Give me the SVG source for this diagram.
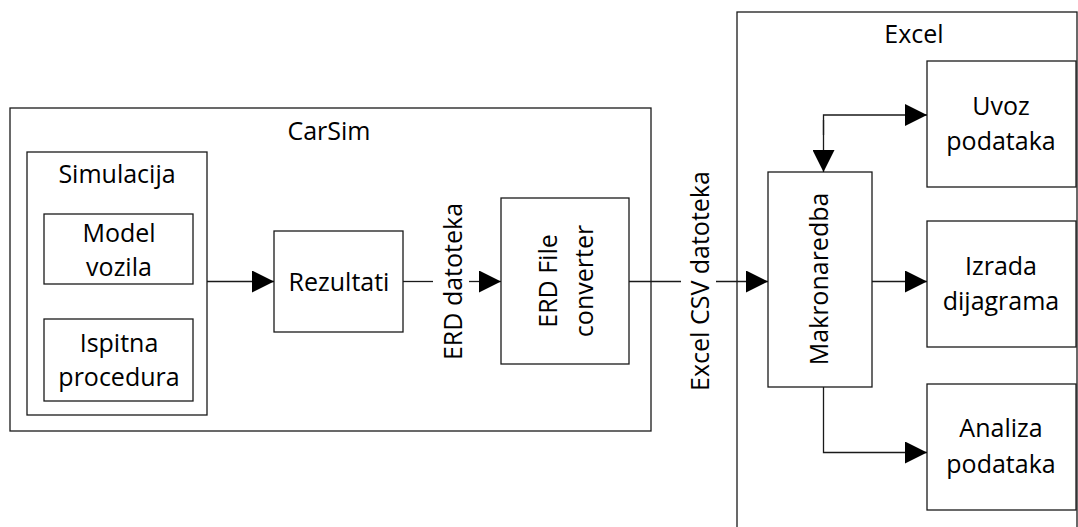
<svg xmlns="http://www.w3.org/2000/svg" width="1078" height="527" viewBox="0 0 1078 527">
<style>
.box{fill:#fff;stroke:#1a1a1a;stroke-width:1.3}
.frame{fill:none;stroke:#1a1a1a;stroke-width:1.3}
.ln{fill:none;stroke:#1a1a1a;stroke-width:1.3}
text{font-family:"Open Sans","Noto Sans","Liberation Sans",sans-serif;font-size:25px;fill:#000;text-anchor:middle;font-variant-ligatures:none}
</style>
<defs>
<marker id="arr" markerUnits="userSpaceOnUse" markerWidth="22" markerHeight="22" refX="22" refY="11" orient="auto" viewBox="0 0 22 22">
<path d="M0,0 L22,11 L0,22 z" fill="#000"/>
</marker>
</defs>
<g id="carsim">
<rect class="frame" x="10" y="108" width="641" height="323"/>
<text x="329" y="140">CarSim</text>
</g>
<g id="excel">
<rect class="frame" x="737" y="12" width="340" height="530"/>
<text x="914" y="43">Excel</text>
</g>
<g id="simulacija">
<rect class="box" x="27" y="152" width="180" height="263"/>
<text x="117" y="183">Simulacija</text>
</g>
<g id="model-vozila">
<rect class="box" x="44" y="214" width="149" height="70"/>
<text x="119" y="242">Model</text>
<text x="119" y="276">vozila</text>
</g>
<g id="ispitna-procedura">
<rect class="box" x="44" y="319" width="149" height="82"/>
<text x="119" y="352">Ispitna</text>
<text x="119" y="386">procedura</text>
</g>
<g id="rezultati">
<rect class="box" x="274" y="231" width="129" height="101"/>
<text x="339" y="291">Rezultati</text>
</g>
<g id="erd-converter">
<rect class="box" x="501" y="198" width="128" height="166"/>
<text transform="translate(556.5,281) rotate(-90)">ERD File</text>
<text transform="translate(592.5,281) rotate(-90)">converter</text>
</g>
<g id="makronaredba">
<rect class="box" x="768" y="172" width="104" height="215"/>
<text transform="translate(828,279) rotate(-90)">Makronaredba</text>
</g>
<g id="uvoz">
<rect class="box" x="927" y="61" width="149" height="126"/>
<text x="1001" y="115">Uvoz</text>
<text x="1001" y="150">podataka</text>
</g>
<g id="izrada">
<rect class="box" x="927" y="221" width="149" height="126"/>
<text x="1001" y="275">Izrada</text>
<text x="1001" y="310">dijagrama</text>
</g>
<g id="analiza">
<rect class="box" x="927" y="384" width="149" height="126"/>
<text x="1001" y="437">Analiza</text>
<text x="1001" y="473">podataka</text>
</g>
<g id="connectors">
<line class="ln" x1="207" y1="281.5" x2="274" y2="281.5" marker-end="url(#arr)"/>
<line class="ln" x1="403" y1="281.5" x2="433" y2="281.5"/>
<line class="ln" x1="469" y1="281.5" x2="501" y2="281.5" marker-end="url(#arr)"/>
<text transform="translate(461.5,281.5) rotate(-90)">ERD datoteka</text>
<line class="ln" x1="629" y1="281.5" x2="681" y2="281.5"/>
<line class="ln" x1="716" y1="281.5" x2="768" y2="281.5" marker-end="url(#arr)"/>
<text transform="translate(709,281) rotate(-90)">Excel CSV datoteka</text>
<polyline class="ln" points="823.5,135 823.5,115 927,115" marker-end="url(#arr)"/>
<line class="ln" x1="823.5" y1="120" x2="823.5" y2="172" marker-end="url(#arr)"/>
<line class="ln" x1="872" y1="281.5" x2="927" y2="281.5" marker-end="url(#arr)"/>
<polyline class="ln" points="823.5,387 823.5,452.5 927,452.5" marker-end="url(#arr)"/>
</g>
</svg>
